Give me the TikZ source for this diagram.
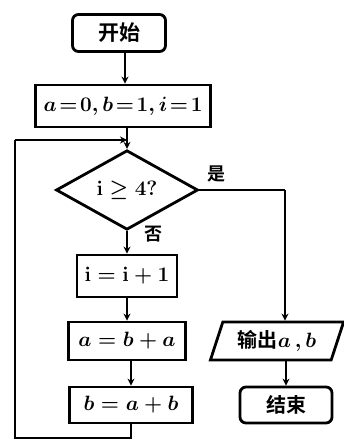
\documentclass[tikz,border=0pt]{standalone}
\usepackage{fontspec}
\newfontfamily\cjk{Noto Sans CJK SC Bold}
\usetikzlibrary{shapes.geometric,arrows.meta}
\begin{document}
\begin{tikzpicture}[x=1pt,y=-1pt,
  every node/.style={font=\fontsize{20}{22}\selectfont\boldmath},
  line/.style={line width=2.6pt},
  arr/.style={line width=2.6pt,-{Stealth[length=7pt,width=7pt]}},
  procbox/.style={draw,line width=2.8pt,rectangle,inner sep=0pt},
  termbox/.style={draw,line width=2.8pt,rectangle,rounded corners=6pt,inner sep=0pt},
  decide/.style={draw,line width=2.8pt,diamond,inner sep=0pt},
  iobox/.style={draw,line width=2.8pt,trapezium,trapezium left angle=67,trapezium right angle=113,trapezium stretches=true,inner sep=0pt},
  lbl/.style={font=\fontsize{18}{20}\selectfont\cjk}]
\useasboundingbox (0,0) rectangle (343,441);

% main column
\node[termbox,minimum width=93pt,minimum height=37pt] (start) at (119,33) {\cjk\fontsize{21}{23}\selectfont 开始};
\node[procbox,minimum width=175pt,minimum height=42pt] (init) at (123,106) {\thickmuskip=2mu $a=0,b=1,i=1$};
\coordinate (merge) at (127,140);
\node[decide,minimum width=142pt,minimum height=60pt] (cond) at (127,190) {$\mathbf{i}\geq 4?$};
\node[procbox,minimum width=100pt,minimum height=42pt] (inc) at (127,276) {$\mathbf{i}=\mathbf{i}+\mathbf{1}$};
\node[procbox,minimum width=117pt,minimum height=38pt] (upa) at (127,341) {$a=b+a$};
\node[procbox,minimum width=123pt,minimum height=36pt] (upb) at (131,405) {$b=a+b$};

% output column
\node[iobox,minimum width=134pt,minimum height=38pt] (out) at (277,341) {{\cjk 输出}$a\,,b$};
\node[termbox,minimum width=92pt,minimum height=36pt] (stop) at (286,405) {\cjk 结束};

\coordinate (turn) at (285,190);
\coordinate (low) at (131,438);
\coordinate (lowleft) at (15,438);
\coordinate (upleft) at (15,140);

% connectors
\draw[arr] (start.south -| 125,0) -- (init.north -| 125,0);
\draw[arr] (init.south -| merge) -- (cond.north);
\draw[arr] (cond.south) -- (inc.north);
\draw[arr] (inc.south) -- (upa.north);
\draw[arr] (upa.south -| upb) -- (upb.north);
\draw[line] (upb.south) -- (low) -- (lowleft) -- (upleft);
\draw[arr] (upleft) -- (merge);
\draw[line] (cond.east) -- (turn);
\draw[arr] (turn) -- (turn |- out.north);
\draw[arr] (out.south -| stop) -- (stop.north);

% branch labels
\node[lbl] (yes) at (216,174) {是};
\node[lbl] (no) at (153,234) {否};
\end{tikzpicture}
\end{document}
